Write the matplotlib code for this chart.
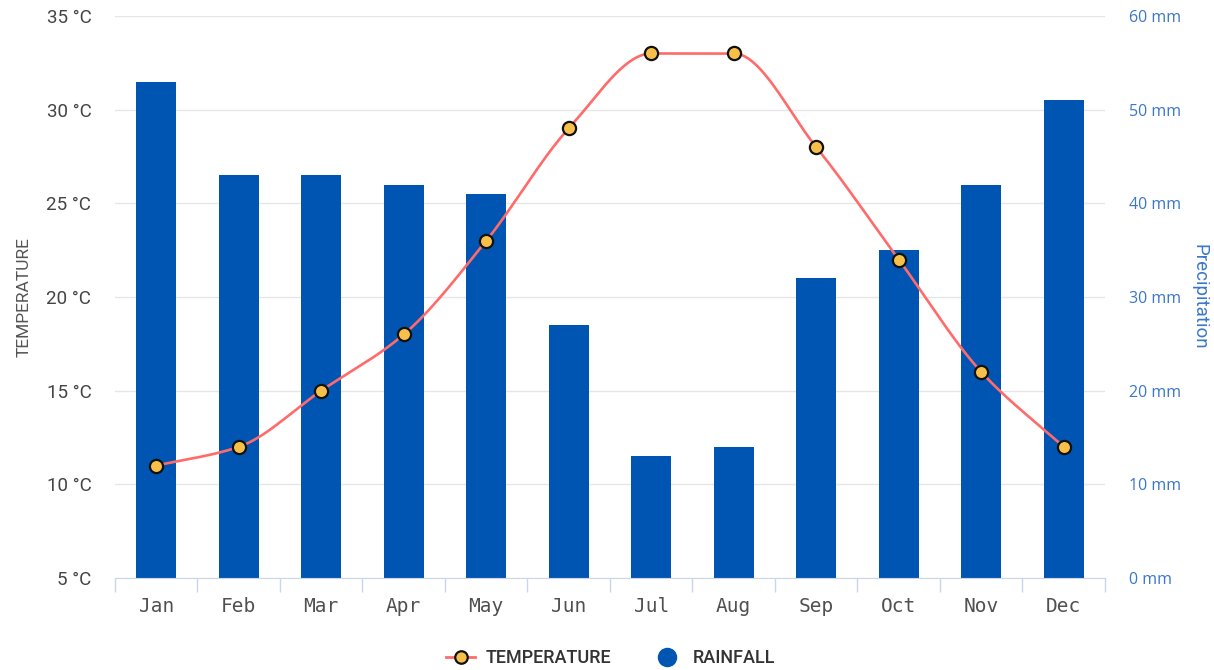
import matplotlib
matplotlib.use("Agg")
import matplotlib.pyplot as plt
from matplotlib.lines import Line2D
import numpy as np

months = ['Jan', 'Feb', 'Mar', 'Apr', 'May', 'Jun',
          'Jul', 'Aug', 'Sep', 'Oct', 'Nov', 'Dec']
temperature = [11, 12, 15, 18, 23, 29, 33, 33, 28, 22, 16, 12]
rainfall = [53, 43, 43, 42, 41, 27, 13, 14, 32, 35, 42, 51]

temp_ticks = [5, 10, 15, 20, 25, 30, 35]
rain_ticks = [0, 10, 20, 30, 40, 50, 60]

LINE_RED = '#ff6b6b'
MARKER_YELLOW = '#f7c04a'
BAR_BLUE = '#0055b3'
AXIS_BLUE = '#3b77c9'
GRID = '#e6e6e6'
AXIS_LINE = '#ccd6eb'


def monotone_curve(x, y, n=40):
    """Monotone cubic (Fritsch-Carlson) path through the points, for drawing."""
    x = np.asarray(x, float)
    y = np.asarray(y, float)
    h = np.diff(x)
    d = np.diff(y) / h
    m = np.zeros_like(y)
    m[0], m[-1] = d[0], d[-1]
    for i in range(1, len(y) - 1):
        if d[i - 1] * d[i] <= 0:
            m[i] = 0
        else:
            w1 = 2 * h[i] + h[i - 1]
            w2 = h[i] + 2 * h[i - 1]
            m[i] = (w1 + w2) / (w1 / d[i - 1] + w2 / d[i])
    xs, ys = [], []
    for i in range(len(x) - 1):
        t = np.linspace(0, 1, n, endpoint=(i == len(x) - 2))
        h00 = 2 * t**3 - 3 * t**2 + 1
        h10 = t**3 - 2 * t**2 + t
        h01 = -2 * t**3 + 3 * t**2
        h11 = t**3 - t**2
        xs.append(x[i] + t * h[i])
        ys.append(h00 * y[i] + h10 * h[i] * m[i] + h01 * y[i + 1] + h11 * h[i] * m[i + 1])
    return np.concatenate(xs), np.concatenate(ys)


fig = plt.figure(figsize=(12.14, 6.70), dpi=100)
ax2 = fig.add_axes([0.0947, 0.1373, 0.8155, 0.8388])   # rainfall (bars, right axis)
ax = fig.add_axes(ax2.get_position(), sharex=ax2)      # temperature (line, left axis)
ax.patch.set_visible(False)
ax.set_zorder(ax2.get_zorder() + 1)

ind = np.arange(len(months))

# rainfall bars
ax2.bar(ind, rainfall, 0.48, color=BAR_BLUE, zorder=2)
ax2.set_ylim(0, 60)
ax2.set_yticks(rain_ticks)
ax2.set_yticklabels([f'{v} mm' for v in rain_ticks])
ax2.yaxis.tick_right()
ax2.yaxis.set_label_position('right')
ax2.tick_params(axis='y', length=0, pad=17, labelcolor=AXIS_BLUE, labelsize=11.5)
for lab in ax2.get_yticklabels():
    lab.set_family('Open Sans')
ax2.set_ylabel('Precipitation', rotation=270, color=AXIS_BLUE, fontsize=13.5,
               family='Roboto', labelpad=20)
ax2.grid(axis='y', color=GRID, linewidth=1)
ax2.set_axisbelow(True)

# temperature line
cx, cy = monotone_curve(ind, temperature)
ax.plot(cx, cy, color=LINE_RED, linewidth=1.9, zorder=3)
ax.plot(ind, temperature, linestyle='none', marker='o', markersize=9.5,
        markerfacecolor=MARKER_YELLOW, markeredgecolor='#111111',
        markeredgewidth=1.6, zorder=4)
ax.set_ylim(5, 35)
ax.set_yticks(temp_ticks)
ax.set_yticklabels([f'{v} °C' for v in temp_ticks])
ax.tick_params(axis='y', length=0, pad=17, labelcolor='#444444', labelsize=13.5)
for lab in ax.get_yticklabels():
    lab.set_family('Roboto')
ax.set_ylabel('TEMPERATURE', color='#555555', fontsize=12.5, family='Roboto',
              labelpad=11)

# x axis with boundary ticks
ax2.set_xlim(-0.5, len(months) - 0.5)
ax2.set_xticks(ind)
ax2.set_xticklabels(months)
ax2.set_xticks(np.arange(-0.5, len(months)), minor=True)
ax2.tick_params(axis='x', which='major', length=0, pad=14, labelsize=14,
                labelcolor='#505050')
ax2.tick_params(axis='x', which='minor', length=10, width=1, color=AXIS_LINE)
for lab in ax2.get_xticklabels():
    lab.set_family('DejaVu Sans Mono')
ax.tick_params(axis='x', which='both', bottom=False, labelbottom=False)

for a in (ax, ax2):
    for s in a.spines.values():
        s.set_visible(False)
ax2.spines['bottom'].set_visible(True)
ax2.spines['bottom'].set_color(AXIS_LINE)

# legend
handles = [
    Line2D([], [], color=LINE_RED, linewidth=2, marker='o', markersize=9,
           markerfacecolor=MARKER_YELLOW, markeredgecolor='#111111',
           markeredgewidth=1.6),
    Line2D([], [], linestyle='none', marker='o', markersize=13,
           markerfacecolor=BAR_BLUE, markeredgecolor=BAR_BLUE),
]
leg = fig.legend(handles, ['TEMPERATURE', 'RAINFALL'], loc='center',
                 bbox_to_anchor=(0.503, 0.018), ncol=2, frameon=False,
                 handlelength=1.6, handletextpad=0.6, columnspacing=2.3,
                 prop={'family': 'Roboto', 'size': 13, 'weight': 'medium'})
for t in leg.get_texts():
    t.set_color('#333333')

plt.savefig('out.png', dpi=100)
